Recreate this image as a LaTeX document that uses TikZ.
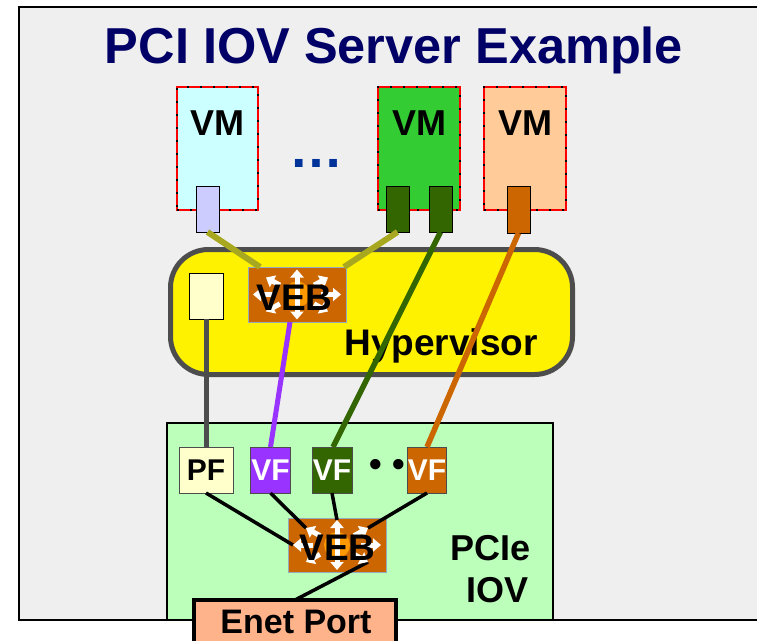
\documentclass[tikz,border=0pt]{standalone}
\usepackage{fontspec}
\setmainfont{Liberation Sans}
\usetikzlibrary{arrows.meta}
\definecolor{bg}{RGB}{239,239,239}
\definecolor{navy}{RGB}{0,0,102}
\definecolor{vmcyan}{RGB}{204,255,255}
\definecolor{vmgreen}{RGB}{51,204,51}
\definecolor{vmpeach}{RGB}{255,204,153}
\definecolor{lav}{RGB}{204,204,255}
\definecolor{dkgreen}{RGB}{51,102,0}
\definecolor{rust}{RGB}{204,102,0}
\definecolor{olive}{RGB}{168,168,32}
\definecolor{hypgray}{RGB}{77,77,77}
\definecolor{purp}{RGB}{153,51,255}
\definecolor{lightyellow}{RGB}{255,255,204}
\definecolor{pcigreen}{RGB}{187,255,187}
\definecolor{salmon}{RGB}{255,179,138}
\definecolor{dotblue}{RGB}{0,51,153}
\definecolor{vebcore}{RGB}{255,153,0}
\definecolor{vebedge}{RGB}{150,170,190}
\newcommand\fsz[1]{\bfseries\fontsize{#1}{#1}\selectfont}
\newcommand\vebarrows[1]{%
  \fill[vebcore] (#1.center) circle (13);
  \draw[white, line width=5, {Triangle[length=8pt,width=13pt]}-{Triangle[length=8pt,width=13pt]}] ([shift={(0,-25)}]#1.center) -- ([shift={(0,25)}]#1.center);
  \foreach \dx/\dy in {-44/0, 44/0, -31/-17, 31/-17, -31/17, 31/17}{
    \draw[white, line width=5, -{Triangle[length=8pt,width=13pt]}] ([shift={(0.55*\dx,0.55*\dy)}]#1.center) -- ([shift={(\dx,\dy)}]#1.center);
  }%
}
\tikzset{
  bx/.style={rectangle, inner sep=0pt, outer sep=0pt},
  vmbox/.style={bx, draw=red, line width=2.5pt, postaction={draw=black, line width=1.5pt, dash pattern=on 2pt off 11pt}},
  portbox/.style={bx, draw=black, line width=1pt},
  fnbox/.style={bx, draw=black!70, line width=0.8pt, minimum height=46pt, text=white, font=\fsz{30}},
  vebbox/.style={bx, fill=rust, draw=vebedge, line width=1pt, minimum width=98pt, minimum height=55pt},
  vebtext/.style={inner sep=0pt, anchor=base, font=\fsz{37}},
  lbl/.style={inner sep=0pt, anchor=base},
  conn/.style={line width=#1},
}
\begin{document}
\begin{tikzpicture}[x=1pt,y=-1pt]
\useasboundingbox (0,0) rectangle (757,640);
\clip (0,0) rectangle (757,640);
\fill[white] (0,0) rectangle (757,640);
\draw[line width=2pt, fill=bg] (19,7) rectangle (790,620);

% title
\node[lbl, text=navy, font=\fsz{50.5}] (title) at (394,63) {PCI IOV Server Example};

% VMs
\node[vmbox, fill=vmcyan, minimum width=81pt, minimum height=123pt] (vm1) at (217.5,148.5) {};
\node[vmbox, fill=vmgreen, minimum width=82pt, minimum height=123pt] (vm2) at (419,148.5) {};
\node[vmbox, fill=vmpeach, minimum width=82pt, minimum height=123pt] (vm3) at (525,148.5) {};
\node[lbl, font=\fsz{36}] (vm1t) at (217.5,135) {VM};
\node[lbl, font=\fsz{36}] (vm2t) at (419,135) {VM};
\node[lbl, font=\fsz{36}] (vm3t) at (525,135) {VM};
\node[lbl, text=dotblue, font=\fsz{54}] (dots) at (316,167) {…};

\node[portbox, fill=lav, minimum width=23pt, minimum height=46pt] (vm1p) at (207.5,209) {};
\node[portbox, fill=dkgreen, minimum width=23pt, minimum height=46pt] (vm2a) at (397.5,209) {};
\node[portbox, fill=dkgreen, minimum width=23pt, minimum height=46pt] (vm2b) at (440.5,209) {};
\node[portbox, fill=rust, minimum width=23pt, minimum height=47pt] (vm3p) at (518.5,209.5) {};

% hypervisor
\node[bx, draw=hypgray, line width=5pt, fill=yellow, rounded corners=38pt, minimum width=402pt, minimum height=125pt] (hyp) at (371.5,312) {};
\node[lbl, font=\fsz{37}] (hypt) at (441,355) {Hypervisor};
\node[portbox, fill=lightyellow, minimum width=34pt, minimum height=46pt] (hbox) at (206,296) {};
\node[vebbox] (hveb) at (297,294.5) {};
\vebarrows{hveb}
\node[vebtext] (hvebt) at (294.5,310) {VEB};

% PCIe IOV
\node[bx, draw=black, line width=2pt, fill=pcigreen, minimum width=386pt, minimum height=197pt] (pcie) at (360,521.5) {};
\node[lbl, font=\fsz{36}, anchor=base east] (pciet1) at (531,560) {PCIe};
\node[lbl, font=\fsz{36}, anchor=base east] (pciet2) at (529,602) {IOV};
\node[fnbox, fill=lightyellow, text=black, minimum width=54pt] (pf) at (206,470) {PF};
\node[fnbox, fill=purp, minimum width=40pt] (vf1) at (270.5,470) {VF};
\node[fnbox, fill=dkgreen, minimum width=40pt] (vf2) at (332,470) {VF};
\node[lbl, font=\fsz{36}] (bul) at (387.5,476) {• •};
\node[fnbox, fill=rust, minimum width=38pt] (vf3) at (427,470) {VF};
\node[vebbox, minimum height=54pt] (pveb) at (337,545) {};
\node[bx, draw=black, line width=4.5pt, fill=salmon, minimum width=202pt, minimum height=44pt] (enet) at (295,622) {};
\node[lbl, font=\fsz{34}] (enett) at (296,633) {Enet Port};

% connectors in PCIe block
\draw[conn=3.5pt] (pf.south) -- ([shift={(-44,0)}]pveb.center);
\draw[conn=3.5pt] (vf1.south) -- ([shift={(-31,-17)}]pveb.center);
\draw[conn=3.5pt] (vf2.south) -- ([shift={(0,-25)}]pveb.center);
\draw[conn=3.5pt] (vf3.south) -- ([shift={(31,-17)}]pveb.center);
\draw[conn=3.5pt] (enet.north) -- ([shift={(31,17)}]pveb.center);
\vebarrows{pveb}
\node[vebtext] (pvebt) at (337.5,560) {VEB};

% connectors from VMs / hypervisor
\draw[conn=6pt, olive] (vm1p.south) -- ([shift={(12,0)}]hveb.north west);
\draw[conn=6pt, olive] (vm2a.south) -- ([shift={(-2,0)}]hveb.north east);
\draw[conn=5.5pt, dkgreen] (vm2b.south) -- ([shift={(1,0)}]vf2.north);
\draw[conn=5.5pt, rust] (vm3p.south) -- (vf3.north);
\draw[conn=5pt, hypgray] (hbox.south) -- (pf.north);
\draw[conn=5pt, purp] ([shift={(-7,0)}]hveb.south) -- (vf1.north);
\end{tikzpicture}
\end{document}
